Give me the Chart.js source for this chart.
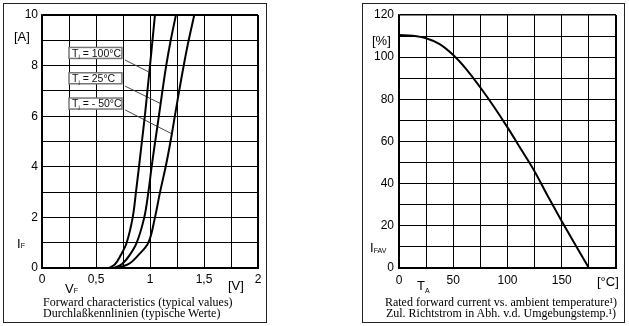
<!DOCTYPE html>
<html>
<head>
<meta charset="utf-8">
<script src="https://cdn.jsdelivr.net/npm/chart.js@4.4.1/dist/chart.umd.min.js"></script>
<style>
  html, body { margin: 0; padding: 0; background: #fff; }
  body { width: 629px; height: 326px; position: relative; overflow: hidden; font-family: "Liberation Sans", Arial, sans-serif; color: #000; }
  .box { position: absolute; border: 1px solid #222; box-sizing: border-box; }
  .cv { position: absolute; top: 0; }
  .t { position: absolute; white-space: nowrap; line-height: 1; }
  .s { font-size: 7px; position: relative; }
  .cap { position: absolute; font-family: "Liberation Serif", "Times New Roman", serif; font-size: 12px; line-height: 12px; white-space: nowrap; }
</style>
</head>
<body>
<div class="box" style="left:3px;top:3px;width:264px;height:320px"></div>
<div class="box" style="left:362px;top:3px;width:263px;height:320px"></div>

<canvas id="fwd" class="cv" width="270" height="300" style="left:0"></canvas>
<canvas id="derate" class="cv" width="289" height="300" style="left:340px"></canvas>

<!-- axis names and units -->
<div class="t" style="left:14px;top:30px;font-size:13px">[A]</div>
<div class="t" style="left:17px;top:237px;font-size:13px">I<span class="s">F</span></div>
<div class="t" style="left:65px;top:282px;font-size:13px">V<span class="s">F</span></div>
<div class="t" style="left:228px;top:279px;font-size:13px">[V]</div>
<div class="cap" style="left:43px;top:296px">Forward characteristics (typical values)</div>
<div class="cap" style="left:43px;top:307px">Durchlaßkennlinien (typische Werte)</div>

<div class="t" style="left:372px;top:34px;font-size:13px">[%]</div>
<div class="t" style="left:370px;top:241px;font-size:13px">I<span class="s" style="top:1px">FAV</span></div>
<div class="t" style="left:417px;top:279px;font-size:13px">T<span class="s" style="top:3px">A</span></div>
<div class="t" style="left:597px;top:275px;font-size:13px">[°C]</div>
<div class="cap" style="left:380px;width:242px;text-align:center;top:296px">Rated forward current vs. ambient temperature¹)</div>
<div class="cap" style="left:380px;width:242px;text-align:center;top:307px">Zul. Richtstrom in Abh. v.d. Umgebungstemp.¹)</div>

<script>
// forward characteristics: current levels [A] and forward voltage [V] per junction temp
const ifLevels = [0, 0.15, 0.5, 1, 2, 3, 4, 5, 6, 7, 8, 9, 10];
const vf100 = [0.62, 0.676, 0.728, 0.784, 0.84, 0.87, 0.898, 0.925, 0.952, 0.976, 1.0, 1.023, 1.046];
const vf25 = [0.66, 0.738, 0.81, 0.877, 0.947, 0.985, 1.015, 1.048, 1.082, 1.115, 1.15, 1.192, 1.24];
const vfMinus50 = [0.69, 0.80, 0.89, 0.985, 1.046, 1.093, 1.145, 1.19, 1.23, 1.27, 1.312, 1.358, 1.41];

// curve labels and their leader lines (data units)
const tjLabels = ['100°C', '25°C', '- 50°C'];
const tjLabelI = [8.5, 7.5, 6.5];
const tjLabelV = [0.25, 0.74];
const leaderStartV = 0.769;
const leaderStartI = [8.22, 7.19, 6.25];
const leaderEndV = [0.984, 1.093, 1.194];
const leaderEndI = [7.76, 6.51, 5.32];

const fwdXTicks = [0, 0.5, 1, 1.5, 2];
const fwdXLabels = ['0', '0,5', '1', '1,5', '2'];

// derating: ambient temp [°C] vs rated forward current [%]
const taPoints = [0, 12.5, 25, 37.5, 50, 62.5, 75, 87.5, 100, 112.5, 125, 137.5, 150, 162.5, 175];
const ifavPct = [110.5, 110.2, 109, 106.2, 101, 94, 85.6, 76.5, 66.7, 56.3, 45.8, 33.8, 22.2, 11, 0];
const taTicks = [0, 50, 100, 150];

const tickFont = { family: "'Liberation Sans', Arial, sans-serif", size: 12 };

function toXY(xs, ys) {
    return xs.map((x, i) => ({ x, y: ys[i] }));
}

function curve(points, monotone) {
    return {
        data: points,
        showLine: true,
        borderColor: '#000',
        borderWidth: 2,
        pointRadius: 0,
        tension: 0.35,
        cubicInterpolationMode: monotone ? 'monotone' : 'default',
    };
}

function leader(i) {
    return {
        data: [
            { x: leaderStartV, y: leaderStartI[i] },
            { x: leaderEndV[i], y: leaderEndI[i] },
        ],
        showLine: true,
        borderColor: '#444',
        borderWidth: 1,
        pointRadius: 0,
    };
}

// white boxes with "Tj = ..." text
const tjLabelPlugin = {
    id: 'tjLabels',
    afterDatasetsDraw(chart) {
        const { ctx, scales } = chart;
        const x0 = scales.x.getPixelForValue(tjLabelV[0]);
        const x1 = scales.x.getPixelForValue(tjLabelV[1]);
        ctx.save();
        tjLabels.forEach((txt, i) => {
            const yc = scales.y.getPixelForValue(tjLabelI[i]);
            ctx.fillStyle = '#fff';
            ctx.fillRect(x0, yc - 5.5, x1 - x0, 11);
            ctx.strokeStyle = '#777';
            ctx.lineWidth = 1.5;
            ctx.strokeRect(x0, yc - 5.5, x1 - x0, 11);
            ctx.fillStyle = '#111';
            ctx.textBaseline = 'alphabetic';
            ctx.textAlign = 'left';
            ctx.font = "10.5px 'Liberation Sans', Arial, sans-serif";
            let x = x0 + 3;
            const base = yc + 3.8;
            ctx.fillText('T', x, base);
            x += ctx.measureText('T').width;
            ctx.font = "6px 'Liberation Sans', Arial, sans-serif";
            ctx.fillText('j', x, base + 1.5);
            x += ctx.measureText('j').width;
            ctx.font = "10.5px 'Liberation Sans', Arial, sans-serif";
            ctx.fillText(' = ' + txt, x, base);
        });
        ctx.restore();
    },
};

const edge = (max, w) => (ctx) => (ctx.tick && ctx.tick.value === max ? w : 1);

new Chart(document.getElementById('fwd'), {
    type: 'scatter',
    data: {
        datasets: [
            curve(toXY(vf100, ifLevels), false),
            curve(toXY(vf25, ifLevels), false),
            curve(toXY(vfMinus50, ifLevels), false),
            leader(0),
            leader(1),
            leader(2),
        ],
    },
    options: {
        responsive: false,
        animation: false,
        events: [],
        layout: { padding: { left: 0, right: 12, top: 15, bottom: 0 } },
        plugins: { legend: { display: false }, tooltip: { enabled: false } },
        scales: {
            x: {
                type: 'linear',
                min: 0,
                max: 2,
                afterFit: (s) => { s.height = 32; },
                ticks: {
                    stepSize: 0.25,
                    autoSkip: false,
                    maxRotation: 0,
                    padding: 4,
                    color: '#000',
                    font: tickFont,
                    callback: (v) => {
                        const k = fwdXTicks.indexOf(v);
                        return k < 0 ? '' : fwdXLabels[k];
                    },
                },
                grid: { color: '#000', lineWidth: edge(2, 2), drawTicks: false },
                border: { color: '#000', width: 2 },
            },
            y: {
                type: 'linear',
                min: 0,
                max: 10,
                afterFit: (s) => { s.width = 42; },
                ticks: {
                    stepSize: 1,
                    autoSkip: false,
                    padding: 4,
                    color: '#000',
                    font: tickFont,
                    callback: (v) => (v % 2 === 0 ? String(v) : ''),
                },
                grid: { color: '#000', lineWidth: edge(10, 2), drawTicks: false },
                border: { color: '#000', width: 1.5 },
            },
        },
    },
    plugins: [tjLabelPlugin],
});

new Chart(document.getElementById('derate'), {
    type: 'scatter',
    data: {
        datasets: [curve(toXY(taPoints, ifavPct), true)],
    },
    options: {
        responsive: false,
        animation: false,
        events: [],
        layout: { padding: { left: 0, right: 13, top: 15, bottom: 0 } },
        plugins: { legend: { display: false }, tooltip: { enabled: false } },
        scales: {
            x: {
                type: 'linear',
                min: 0,
                max: 200,
                afterFit: (s) => { s.height = 32; },
                ticks: {
                    stepSize: 25,
                    autoSkip: false,
                    maxRotation: 0,
                    padding: 5,
                    color: '#000',
                    font: tickFont,
                    callback: (v) => (taTicks.includes(v) ? String(v) : ''),
                },
                grid: { color: '#000', lineWidth: edge(200, 2), drawTicks: false },
                border: { color: '#000', width: 2 },
            },
            y: {
                type: 'linear',
                min: 0,
                max: 120,
                afterFit: (s) => { s.width = 59; },
                ticks: {
                    stepSize: 10,
                    autoSkip: false,
                    padding: 5,
                    color: '#000',
                    font: tickFont,
                    callback: (v) => (v % 20 === 0 ? String(v) : ''),
                },
                grid: { color: '#000', lineWidth: edge(120, 1.5), drawTicks: false },
                border: { color: '#000', width: 1.5 },
            },
        },
    },
});
</script>
</body>
</html>
